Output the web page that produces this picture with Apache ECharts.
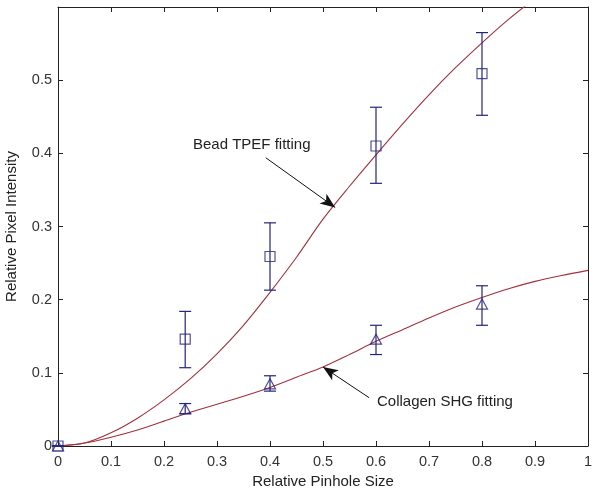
<!DOCTYPE html>
<html><head><meta charset="utf-8">
<script src="https://cdn.jsdelivr.net/npm/echarts@6/dist/echarts.min.js"></script>
<style>html,body{margin:0;padding:0;background:#fff}#c{width:601px;height:491px}</style>
</head><body><div id="c"></div>
<script>
// ---- data ----
const xTickLabels = ['0','0.1','0.2','0.3','0.4','0.5','0.6','0.7','0.8','0.9','1'];
const yTickLabels = ['0','0.1','0.2','0.3','0.4','0.5'];
const pinhole = [0, 0.24, 0.4, 0.6, 0.8];
const beadMean = [0, 0.146, 0.259, 0.410, 0.509];
const beadLow  = [0, 0.107, 0.213, 0.359, 0.452];
const beadHigh = [0, 0.184, 0.305, 0.463, 0.565];
const shgMean = [0, 0.051, 0.085, 0.146, 0.194];
const shgLow  = [0, 0.044, 0.075, 0.125, 0.165];
const shgHigh = [0, 0.058, 0.096, 0.165, 0.219];
const fitX = [0,0.05,0.1,0.15,0.2,0.25,0.3,0.35,0.4,0.45,0.5,0.55,0.6,0.65,0.7,0.75,0.8,0.85,0.9,0.95,1.0];
const beadFit = [0,0.004,0.018,0.038,0.063,0.092,0.126,0.165,0.21,0.258,0.31,0.355,0.398,0.44,0.48,0.517,0.551,0.583,0.612,0.64,0.665];
const shgFit = [0,0.004,0.012,0.022,0.034,0.046,0.057,0.068,0.080,0.094,0.108,0.125,0.143,0.159,0.175,0.190,0.203,0.215,0.225,0.233,0.240];
const annotations = [
  {text:'Bead TPEF fitting', from:[0.392,0.394], to:[0.523,0.326]},
  {text:'Collagen SHG fitting', from:[0.587,0.066], to:[0.500,0.108]}
];

// ---- chart ----
const MARK = '#24247e', FIT = '#a3303c', AX = '#222';
const FONT = "'Liberation Sans', Arial, sans-serif";
const chart = echarts.init(document.getElementById('c'), null, {renderer:'canvas'});

function errData(lo, hi){ return pinhole.map((x,i)=>[x, lo[i], hi[i]]); }
function errRender(params, api){
  const x = api.value(0), lo = api.value(1), hi = api.value(2);
  const a = api.coord([x, lo]), b = api.coord([x, hi]);
  const w = 6, st = {stroke: MARK, lineWidth: 1.2};
  return {type:'group', children:[
    {type:'line', shape:{x1:a[0], y1:a[1], x2:b[0], y2:b[1]}, style:st},
    {type:'line', shape:{x1:a[0]-w, y1:a[1], x2:a[0]+w, y2:a[1]}, style:st},
    {type:'line', shape:{x1:b[0]-w, y1:b[1], x2:b[0]+w, y2:b[1]}, style:st}
  ]};
}
const axisCommon = {
  type:'value', splitLine:{show:false},
  axisLine:{show:true, onZero:false, lineStyle:{color:AX, width:1}},
  axisTick:{show:true, inside:true, length:5, lineStyle:{color:AX}},
};
chart.setOption({
  animation:false,
  backgroundColor:'#fff',
  grid:{left:58, right:13, top:7, bottom:45, containLabel:false, outerBoundsMode:'none'},
  xAxis:[
    Object.assign({}, axisCommon, {position:'bottom', min:0, max:1, interval:0.1,
      axisLabel:{color:'#333', fontFamily:FONT, fontSize:14.5, margin:8,
        formatter:(v)=>xTickLabels[Math.round(v*10)] || ''},
      name:'Relative Pinhole Size', nameLocation:'middle', nameGap:18,
      nameTextStyle:{color:'#222', fontFamily:FONT, fontSize:15}}),
    Object.assign({}, axisCommon, {position:'top', min:0, max:1, interval:0.1, axisLabel:{show:false}})
  ],
  yAxis:[
    Object.assign({}, axisCommon, {position:'left', min:0, max:0.6, interval:0.1,
      axisLabel:{color:'#333', fontFamily:FONT, fontSize:14.5, margin:6,
        formatter:(v)=>yTickLabels[Math.round(v*10)] || ''},
      name:'Relative Pixel Intensity', nameLocation:'middle', nameGap:39,
      nameTextStyle:{color:'#222', fontFamily:FONT, fontSize:15}}),
    Object.assign({}, axisCommon, {position:'right', min:0, max:0.6, interval:0.1, axisLabel:{show:false}})
  ],
  series:[
    {type:'line', data:fitX.map((x,i)=>[x, beadFit[i]]), smooth:0.3, showSymbol:false, clip:true,
     lineStyle:{color:FIT, width:1.1}, z:2,
     markLine:{silent:true, symbol:['none','arrow'], symbolSize:[9,15], label:{show:false},
       lineStyle:{color:'#111', width:1, type:'solid'},
       data:annotations.map(a=>[{coord:a.from},{coord:a.to}])}},
    {type:'line', data:fitX.map((x,i)=>[x, shgFit[i]]), smooth:0.3, showSymbol:false, clip:true,
     lineStyle:{color:FIT, width:1.1}, z:2},
    {type:'custom', renderItem:errRender, data:errData(beadLow, beadHigh), z:3, clip:false},
    {type:'custom', renderItem:errRender, data:errData(shgLow, shgHigh), z:3, clip:false},
    {type:'scatter', data:pinhole.map((x,i)=>[x, beadMean[i]]), symbol:'rect', symbolSize:10, clip:false,
     itemStyle:{color:'rgba(255,255,255,0)', borderColor:MARK, borderWidth:1.2}, z:4},
    {type:'scatter', data:pinhole.map((x,i)=>[x, shgMean[i]]), symbol:'triangle', symbolSize:[11,10], clip:false,
     itemStyle:{color:'rgba(255,255,255,0)', borderColor:MARK, borderWidth:1.2}, z:4}
  ],
  graphic:[
    {type:'text', left:193, top:137, style:{text:annotations[0].text, font:'15px '+FONT, fill:'#222'}},
    {type:'text', left:377, top:394, style:{text:annotations[1].text, font:'15px '+FONT, fill:'#222'}}
  ]
});
</script>
</body></html>
